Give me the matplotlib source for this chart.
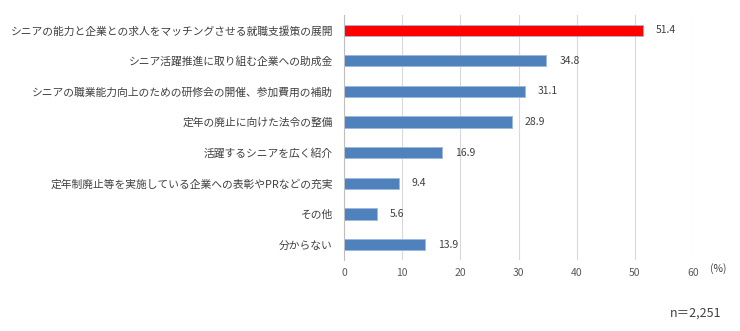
import matplotlib
matplotlib.use("Agg")
import matplotlib.pyplot as plt

plt.rcParams['font.family'] = ['Noto Sans CJK JP', 'DejaVu Sans']

labels = [
    "シニアの能力と企業との求人をマッチングさせる就職支援策の展開",
    "シニア活躍推進に取り組む企業への助成金",
    "シニアの職業能力向上のための研修会の開催、参加費用の補助",
    "定年の廃止に向けた法令の整備",
    "活躍するシニアを広く紹介",
    "定年制廃止等を実施している企業への表彰やPRなどの充実",
    "その他",
    "分からない",
]
values = [51.4, 34.8, 31.1, 28.9, 16.9, 9.4, 5.6, 13.9]
colors = ["#FF0000"] + ["#4F81BD"] * 7
xticks = [0, 10, 20, 30, 40, 50, 60]

fig = plt.figure(figsize=(7.4, 3.31), dpi=100)
ax = fig.add_axes([0.465, 0.215, 0.4715, 0.74])

pos = list(range(len(labels)))
ax.barh(pos, values, height=0.37, color=colors, edgecolor="#9DB9DC", linewidth=0.6, zorder=3)
for p, v in zip(pos, values):
    ax.text(v + 2.2, p, f"{v:.1f}", va="center", ha="left", fontsize=7.5, color="#404040")

ax.set_xlim(0, 60)
ax.set_ylim(len(labels) - 0.5, -0.5)
ax.set_xticks(xticks)
ax.set_yticks(pos)
ax.set_yticklabels(labels, fontsize=7.75, color="#404040")
ax.tick_params(axis="x", labelsize=7.5, colors="#595959", length=0, pad=6)
ax.tick_params(axis="y", length=0, pad=8)
ax.xaxis.grid(True, color="#D9D9D9", linewidth=0.8, zorder=0)
for s in ["top", "right", "bottom"]:
    ax.spines[s].set_visible(False)
ax.spines["left"].set_color("#BFBFBF")
ax.spines["left"].set_zorder(4)

fig.text(0.97, 0.19, "(%)", fontsize=7.5, color="#404040", ha="center", va="center")
fig.text(0.975, 0.055, "n＝2,251", fontsize=9, color="#404040", ha="right", va="center")

fig.savefig("out.png", dpi=100)
